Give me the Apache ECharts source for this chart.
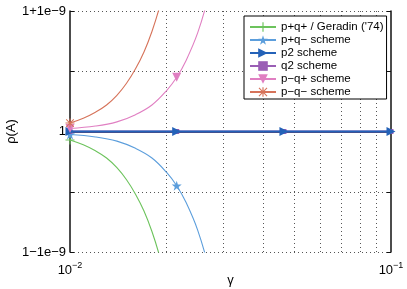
<!DOCTYPE html>
<html><head><meta charset="utf-8">
<script src="https://cdn.jsdelivr.net/npm/echarts@6/dist/echarts.min.js"></script>
<style>html,body{margin:0;padding:0;background:#fff}#c{width:407px;height:289px}</style>
</head><body><div id="c"></div>
<script>
// ---- data (y in units of 1e-9, deviation from 1) ----
const seriesNames = ["p+q+ / Geradin ('74)", "p+q\u2212 scheme", "p2 scheme", "q2 scheme", "p\u2212q+ scheme", "p\u2212q\u2212 scheme"];
const gammaA = [0.010, 0.011, 0.012, 0.013, 0.014, 0.015, 0.016, 0.017, 0.018, 0.019, 0.020];
const geradin = [-0.07, -0.11, -0.16, -0.22, -0.30, -0.40, -0.52, -0.66, -0.83, -1.03, -1.26];
const pmqm    = [0.07, 0.11, 0.16, 0.22, 0.30, 0.40, 0.52, 0.66, 0.83, 1.03, 1.26];
const gammaB = [0.010, 0.012, 0.014, 0.016, 0.018, 0.020, 0.0215, 0.023, 0.025, 0.027];
const pqm    = [-0.025, -0.045, -0.08, -0.14, -0.22, -0.34, -0.45, -0.59, -0.82, -1.12];
const pmqp   = [0.025, 0.045, 0.08, 0.14, 0.22, 0.34, 0.45, 0.59, 0.82, 1.12];
const gammaFlat = [0.01, 0.0215, 0.0464, 0.1];
const p2 = [0, 0, 0, 0];
const q2 = [0, 0, 0, 0];
const markerGamma = [0.01, 0.0215, 0.0464, 0.1];
const xMinorGrid = [0.02, 0.03, 0.04, 0.05, 0.06, 0.07, 0.08, 0.09];
const yTickLabels = {"-1": "1\u22121e\u22129", "0": "1", "1": "1+1e\u22129"};
const xExp = {"-2": "\u22122", "-1": "\u22121"};

const colors = ['#6cc35c', '#5c9edc', '#2462b8', '#9a5eb5', '#e07fc2', '#d6735a'];
const SYM = {
  plus: 'path://M4.4,0H5.6V4.4H10V5.6H5.6V10H4.4V5.6H0V4.4H4.4Z',
  star: 'path://M5,0L6.123,3.455L9.755,3.455L6.817,5.59L7.939,9.045L5,6.91L2.061,9.045L3.183,5.59L0.245,3.455L3.877,3.455Z',
  tri: 'path://M0,0L10,5L0,10Z',
  down: 'path://M0,0L10,0L5,10Z',
  ast: 'path://M4.4,0H5.6V10H4.4Z M0,4.4H10V5.6H0Z M1.2,0.4L9.6,8.8L8.8,9.6L0.4,1.2Z M0.4,8.8L8.8,0.4L9.6,1.2L1.2,9.6Z'
};
function mk(xs, ys) {
  return xs.map((x, i) => {
    const isM = markerGamma.some(m => Math.abs(m - x) < 1e-9);
    return isM ? {value: [x, ys[i]]} : {value: [x, ys[i]], symbol: 'none'};
  });
}
function line(idx, xs, ys, symbol, size, width, z, smooth) {
  return {
    name: seriesNames[idx], type: 'line', data: mk(xs, ys),
    symbol: symbol, symbolSize: size, showAllSymbol: true,
    lineStyle: {width: width, color: colors[idx]},
    itemStyle: {color: colors[idx]},
    smooth: smooth, z: z, animation: false, clip: true
  };
}
const font = '"Liberation Sans", Arial, Helvetica, sans-serif';
const chart = echarts.init(document.getElementById('c'), null, {renderer: 'canvas'});
chart.setOption({
  animation: false,
  backgroundColor: '#fff',
  grid: {left: 70, right: 16, top: 11, bottom: 37, show: false, outerBoundsMode: 'none', containLabel: false},
  legend: {
    data: seriesNames, orient: 'vertical', left: 244, top: 16, z: 50, zlevel: 0,
    backgroundColor: '#fff', borderColor: '#000', borderWidth: 1, borderRadius: 0,
    padding: [5, 3, 1, 5], itemGap: 1, itemWidth: 26, itemHeight: 12,
    textStyle: {fontFamily: font, fontSize: 11.5, color: '#000'}
  },
  xAxis: [{
    type: 'log', logBase: 10, min: 0.01, max: 0.1,
    name: '\u03b3', nameLocation: 'middle', nameGap: 22, nameMoveOverlap: false,
    nameTextStyle: {fontFamily: font, fontSize: 13, color: '#000'},
    axisLine: {lineStyle: {color: '#111', width: 1.5}},
    axisTick: {show: false},
    splitLine: {show: false},
    axisLabel: {
      margin: 9, color: '#000', fontFamily: font,
      formatter: v => { const e = String(Math.round(Math.log10(v))); return '{b|10}{s|' + xExp[e] + '}'; },
      rich: {b: {fontSize: 13, fontFamily: font, color: '#000'}, s: {fontSize: 9, fontFamily: font, color: '#000', padding: [0, 0, 9, 0]}}
    }
  }, {
    type: 'log', logBase: 10, min: 0.01, max: 0.1, position: 'top',
    axisLine: {lineStyle: {color: '#111', width: 1.5}},
    axisTick: {show: false}, axisLabel: {show: false}, splitLine: {show: false}
  }],
  yAxis: [{
    type: 'value', min: -1, max: 1, interval: 0.5,
    name: '\u03c1(A)', nameLocation: 'middle', nameGap: 52, nameMoveOverlap: false,
    nameTextStyle: {fontFamily: font, fontSize: 13, color: '#000'},
    axisLine: {show: true, lineStyle: {color: '#111', width: 1.5}},
    axisTick: {show: true, inside: true, length: 4, lineStyle: {color: '#111'}},
    splitLine: {show: true, lineStyle: {color: '#555', width: 1, type: [1, 3]}},
    axisLabel: {
      margin: 4, color: '#000', fontFamily: font, fontSize: 13,
      formatter: v => { const k = String(Math.round(v * 2) / 2); return yTickLabels[k] !== undefined ? yTickLabels[k] : ''; }
    }
  }, {
    type: 'value', min: -1, max: 1, interval: 0.5, position: 'right',
    axisLine: {show: true, lineStyle: {color: '#111', width: 1.5}},
    axisTick: {show: true, inside: true, length: 4, lineStyle: {color: '#111'}},
    axisLabel: {show: false}, splitLine: {show: false}
  }],
  series: [
    {
      name: 'grid', type: 'line', data: [[0.01, 5]], symbol: 'none', z: 0, silent: true,
      lineStyle: {width: 0},
      markLine: {
        silent: true, symbol: ['none', 'none'], label: {show: false}, z: 0,
        lineStyle: {color: '#555', width: 1, type: [1, 3]},
        data: xMinorGrid.map(g => ({xAxis: g})), animation: false
      }
    },
    line(0, gammaA, geradin, SYM.plus, 9, 1.1, 2, 0.4),
    line(1, gammaB, pqm, SYM.star, 10, 1.1, 3, 0.4),
    line(3, gammaFlat, q2, 'rect', 5, 2, 4, false),
    line(2, gammaFlat, p2, SYM.tri, 9, 2, 5, false),
    line(4, gammaB, pmqp, SYM.down, 9, 1.1, 6, 0.4),
    line(5, gammaA, pmqm, SYM.ast, 9, 1.1, 7, 0.4)
  ]
});
</script></body></html>
